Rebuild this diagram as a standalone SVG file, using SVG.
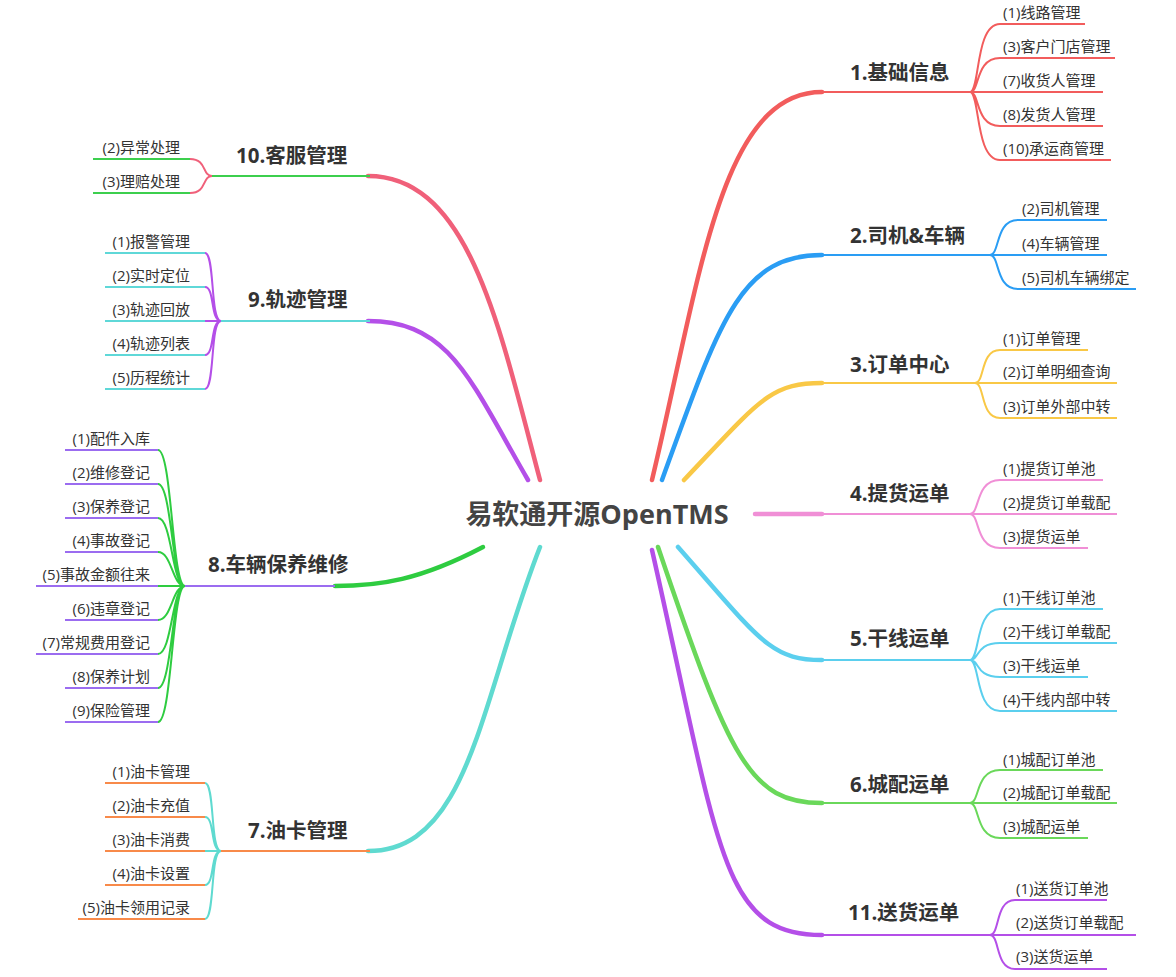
<svg xmlns="http://www.w3.org/2000/svg" width="1176" height="977" viewBox="0 0 1176 977">
<style>
text{font-family:"Open Sans","Noto Sans CJK SC",sans-serif;fill:#333}
.leaf{font-size:15px}
.br{font-size:20.5px;font-weight:bold}
.l{text-anchor:end}
.main{fill:none;stroke-width:4.5;stroke-linecap:round}
.c{fill:none;stroke-width:2}
.u{fill:none;stroke-width:2}
</style>
<rect width="1176" height="977" fill="#fff"/>
<g id="connectors">
<path class="main" stroke="#f25c5c" d="M652,480 C700,280 720,92 822,92"/>
<path class="main" stroke="#2a9df4" d="M662,480 C720,320 740,255 822,255"/>
<path class="main" stroke="#f9c846" d="M684,480 C760,400 770,383 822,383"/>
<path class="main" stroke="#f08fd6" d="M755,514 L822,514"/>
<path class="main" stroke="#5bcfee" d="M678,547 C760,640 770,660 822,660"/>
<path class="main" stroke="#6ad85a" d="M658,547 C730,760 750,803 822,803"/>
<path class="main" stroke="#b44fe8" d="M652,550 C720,850 720,935 822,935"/>
<path class="main" stroke="#f0607a" d="M540,480 C500,330 470,176 368,176"/>
<path class="main" stroke="#b44fe8" d="M528,480 C470,380 450,321 368,321"/>
<path class="main" stroke="#2ecc40" d="M483,547 C420,580 380,586 335,586"/>
<path class="main" stroke="#5fdad0" d="M540,547 C480,700 470,851 368,851"/>
</g>
<g id="root"><text x="597" y="524" text-anchor="middle" style="font-size:27px;font-weight:bold;fill:#444">易软通开源OpenTMS</text></g>

<g id="n1" stroke="#f25c5c">
<path class="u" d="M822,92 L970,92"/>
<text class="br" x="850" y="80" stroke="none">1.基础信息</text>
<path class="c" d="M970,92 C980,92 975,24 1000,24 L1085,24 M970,92 C980,92 975,58 1000,58 L1115,58 M970,92 L1103,92 M970,92 C980,92 975,126 1000,126 L1103,126 M970,92 C980,92 975,160 1000,160 L1111,160"/>
<g stroke="none"><text class="leaf" x="1003" y="18">(1)线路管理</text><text class="leaf" x="1003" y="52">(3)客户门店管理</text><text class="leaf" x="1003" y="86">(7)收货人管理</text><text class="leaf" x="1003" y="120">(8)发货人管理</text><text class="leaf" x="1003" y="154">(10)承运商管理</text></g>
</g>
<g id="n2" stroke="#2a9df4">
<path class="u" d="M822,255 L990,255"/>
<text class="br" x="850" y="243" stroke="none">2.司机&amp;车辆</text>
<path class="c" d="M990,255 C1000,255 995,220 1018,220 L1107,220 M990,255 L1107,255 M990,255 C1000,255 995,289 1018,289 L1136,289"/>
<g stroke="none"><text class="leaf" x="1022" y="214">(2)司机管理</text><text class="leaf" x="1022" y="249">(4)车辆管理</text><text class="leaf" x="1022" y="283">(5)司机车辆绑定</text></g>
</g>
<g id="n3" stroke="#f9c846">
<path class="u" d="M822,383 L975,383"/>
<text class="br" x="850" y="372" stroke="none">3.订单中心</text>
<path class="c" d="M975,383 C985,383 980,350 1000,350 L1088,350 M975,383 L1117,383 M975,383 C985,383 980,418 1000,418 L1117,418"/>
<g stroke="none"><text class="leaf" x="1003" y="344">(1)订单管理</text><text class="leaf" x="1003" y="377">(2)订单明细查询</text><text class="leaf" x="1003" y="412">(3)订单外部中转</text></g>
</g>
<g id="n4" stroke="#f08fd6">
<path class="u" d="M822,514 L970,514"/>
<text class="br" x="850" y="501" stroke="none">4.提货运单</text>
<path class="c" d="M970,514 C980,514 975,480 1000,480 L1103,480 M970,514 L1117,514 M970,514 C980,514 975,548 1000,548 L1088,548"/>
<g stroke="none"><text class="leaf" x="1003" y="474">(1)提货订单池</text><text class="leaf" x="1003" y="508">(2)提货订单载配</text><text class="leaf" x="1003" y="542">(3)提货运单</text></g>
</g>
<g id="n5" stroke="#5bcfee">
<path class="u" d="M822,660 L970,660"/>
<text class="br" x="850" y="646" stroke="none">5.干线运单</text>
<path class="c" d="M970,660 C980,660 975,609 1000,609 L1103,609 M970,660 C980,660 975,643 1000,643 L1117,643 M970,660 C980,660 975,677 1000,677 L1088,677 M970,660 C980,660 975,711 1000,711 L1117,711"/>
<g stroke="none"><text class="leaf" x="1003" y="603">(1)干线订单池</text><text class="leaf" x="1003" y="637">(2)干线订单载配</text><text class="leaf" x="1003" y="671">(3)干线运单</text><text class="leaf" x="1003" y="705">(4)干线内部中转</text></g>
</g>
<g id="n6" stroke="#6ad85a">
<path class="u" d="M822,803 L970,803"/>
<text class="br" x="850" y="792" stroke="none">6.城配运单</text>
<path class="c" d="M970,803 C980,803 975,770 1000,770 L1103,770 M970,803 L1117,803 M970,803 C980,803 975,838 1000,838 L1088,838"/>
<g stroke="none"><text class="leaf" x="1003" y="765">(1)城配订单池</text><text class="leaf" x="1003" y="798">(2)城配订单载配</text><text class="leaf" x="1003" y="832">(3)城配运单</text></g>
</g>
<g id="n11" stroke="#b44fe8">
<path class="u" d="M822,935 L990,935"/>
<text class="br" x="848" y="920" stroke="none">11.送货运单</text>
<path class="c" d="M990,935 C1000,935 995,900 1015,900 L1107,900 M990,935 L1136,935 M990,935 C1000,935 995,969 1015,969 L1107,969"/>
<g stroke="none"><text class="leaf" x="1016" y="894">(1)送货订单池</text><text class="leaf" x="1016" y="928">(2)送货订单载配</text><text class="leaf" x="1016" y="962">(3)送货运单</text></g>
</g>

<g id="n10">
<path class="u" stroke="#3ccf4e" d="M212,176 L370,176"/>
<text class="br" x="236" y="163">10.客服管理</text>
<path class="c" stroke="#f0607a" d="M212,176 C202,176 207,159 190,159 M212,176 C202,176 207,193 190,193"/>
<path class="u" stroke="#3ccf4e" d="M190,159 L93,159 M190,193 L93,193"/>
<text class="leaf l" x="180" y="153">(2)异常处理</text><text class="leaf l" x="180" y="187">(3)理赔处理</text>
</g>
<g id="n9">
<path class="u" stroke="#5fd8d8" d="M221,321 L370,321"/>
<text class="br" x="248" y="307">9.轨迹管理</text>
<path class="c" stroke="#b44fe8" d="M221,321 C210,321 215,253 205,253 M221,321 C210,321 215,287 205,287 M221,321 L205,321 M221,321 C210,321 215,355 205,355 M221,321 C210,321 215,389 205,389"/>
<path class="u" stroke="#5fd8d8" d="M205,253 L105,253 M205,287 L105,287 M205,321 L105,321 M205,355 L105,355 M205,389 L105,389"/>
<text class="leaf l" x="190" y="247">(1)报警管理</text><text class="leaf l" x="190" y="281">(2)实时定位</text><text class="leaf l" x="190" y="315">(3)轨迹回放</text><text class="leaf l" x="190" y="349">(4)轨迹列表</text><text class="leaf l" x="190" y="383">(5)历程统计</text>
</g>
<g id="n8">
<path class="u" stroke="#9b6cf0" d="M183,586 L335,586"/>
<text class="br" x="208" y="572">8.车辆保养维修</text>
<path class="c" stroke="#2ecc40" d="M185,586 C172,586 172,450 158,450 M185,586 C172,586 172,484 158,484 M185,586 C172,586 172,518 158,518 M185,586 C172,586 172,552 158,552 M185,586 L158,586 M185,586 C172,586 172,620 158,620 M185,586 C172,586 172,654 158,654 M185,586 C172,586 172,688 158,688 M185,586 C172,586 172,722 158,722"/>
<path class="u" stroke="#9b6cf0" d="M158,450 L65,450 M158,484 L65,484 M158,518 L65,518 M158,552 L65,552 M158,586 L36,586 M158,620 L65,620 M158,654 L36,654 M158,688 L65,688 M158,722 L65,722"/>
<text class="leaf l" x="150" y="444">(1)配件入库</text><text class="leaf l" x="150" y="478">(2)维修登记</text><text class="leaf l" x="150" y="512">(3)保养登记</text><text class="leaf l" x="150" y="546">(4)事故登记</text><text class="leaf l" x="150" y="580">(5)事故金额往来</text><text class="leaf l" x="150" y="614">(6)违章登记</text><text class="leaf l" x="150" y="648">(7)常规费用登记</text><text class="leaf l" x="150" y="682">(8)保养计划</text><text class="leaf l" x="150" y="716">(9)保险管理</text>
</g>
<g id="n7">
<path class="u" stroke="#f88a4a" d="M221,851 L370,851"/>
<text class="br" x="248" y="838">7.油卡管理</text>
<path class="c" stroke="#5fdad0" d="M221,851 C210,851 215,783 205,783 M221,851 C210,851 215,817 205,817 M221,851 L205,851 M221,851 C210,851 215,885 205,885 M221,851 C210,851 215,919 205,919"/>
<path class="u" stroke="#f88a4a" d="M205,783 L105,783 M205,817 L105,817 M205,851 L105,851 M205,885 L105,885 M205,919 L78,919"/>
<text class="leaf l" x="190" y="777">(1)油卡管理</text><text class="leaf l" x="190" y="811">(2)油卡充值</text><text class="leaf l" x="190" y="845">(3)油卡消费</text><text class="leaf l" x="190" y="879">(4)油卡设置</text><text class="leaf l" x="190" y="913">(5)油卡领用记录</text>
</g>
</svg>
